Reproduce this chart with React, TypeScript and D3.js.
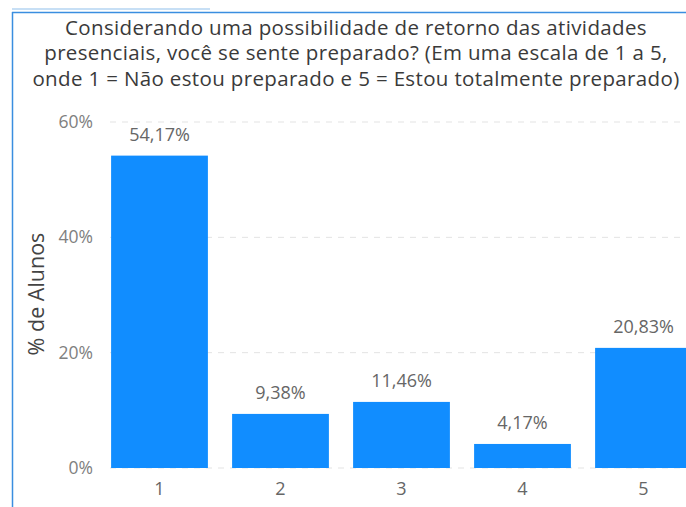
import React from "react";
import * as d3 from "d3";

const categories = ["1", "2", "3", "4", "5"];
const values = [54.17, 9.38, 11.46, 4.17, 20.83];
const valueLabels = ["54,17%", "9,38%", "11,46%", "4,17%", "20,83%"];
const yTicks = [0, 20, 40, 60];
const titleLines = [
  "Considerando uma possibilidade de retorno das atividades",
  "presenciais, você se sente preparado? (Em uma escala de 1 a 5,",
  "onde 1 = Não estou preparado e 5 = Estou totalmente preparado)",
];
const yTitle = "% de Alunos";

const W = 686;
const H = 507;

export default function App() {
  const x = d3
    .scaleBand<string>()
    .domain(categories)
    .range([99, 704])
    .paddingInner(0.2)
    .paddingOuter(0.1);
  const y = d3.scaleLinear().domain([0, 60]).range([468, 122]);
  const font = "'Segoe UI', 'Open Sans', 'Noto Sans', sans-serif";

  return (
    <svg
      width={W}
      height={H}
      style={{ position: "absolute", left: 0, top: 0, background: "#fff" }}
      fontFamily={font}
    >
      {/* frame */}
      <line x1={12} x2={210} y1={9} y2={9} stroke="#b5d4f2" strokeWidth={1.5} />
      <line x1={12} x2={W} y1={12.5} y2={12.5} stroke="#3a8ee0" strokeWidth={1.5} />
      <line x1={12.5} x2={12.5} y1={12} y2={H} stroke="#3a8ee0" strokeWidth={1.5} />

      {/* title */}
      {titleLines.map((t, i) => (
        <text
          key={i}
          x={356}
          y={34.5 + i * 25.5}
          textAnchor="middle"
          fontSize={20.5}
          letterSpacing={0.35}
          fill="#3a3a3a"
        >
          {t}
        </text>
      ))}

      {/* grid */}
      {yTicks.map((t) => (
        <line
          key={t}
          x1={110}
          x2={W}
          y1={y(t)}
          y2={y(t)}
          stroke="#e3e3e3"
          strokeDasharray="6 6"
          strokeWidth={1}
        />
      ))}
      {yTicks.map((t) => (
        <text
          key={"l" + t}
          x={93}
          y={y(t) + 6}
          textAnchor="end"
          fontSize={17.5}
          fill="#808080"
        >
          {t + "%"}
        </text>
      ))}

      <text
        transform={`translate(44,294) rotate(-90)`}
        textAnchor="middle"
        fontSize={21.5}
        fill="#444"
      >
        {yTitle}
      </text>

      {/* bars */}
      {categories.map((c, i) => (
        <g key={c}>
          <rect
            x={x(c)}
            y={y(values[i])}
            width={x.bandwidth()}
            height={y(0) - y(values[i])}
            fill="#118DFF"
          />
          <text
            x={(x(c) as number) + x.bandwidth() / 2}
            y={y(values[i]) - 15}
            textAnchor="middle"
            fontSize={18}
            fill="#666"
          >
            {valueLabels[i]}
          </text>
          <text
            x={(x(c) as number) + x.bandwidth() / 2}
            y={495}
            textAnchor="middle"
            fontSize={18}
            fill="#666"
          >
            {c}
          </text>
        </g>
      ))}
    </svg>
  );
}
